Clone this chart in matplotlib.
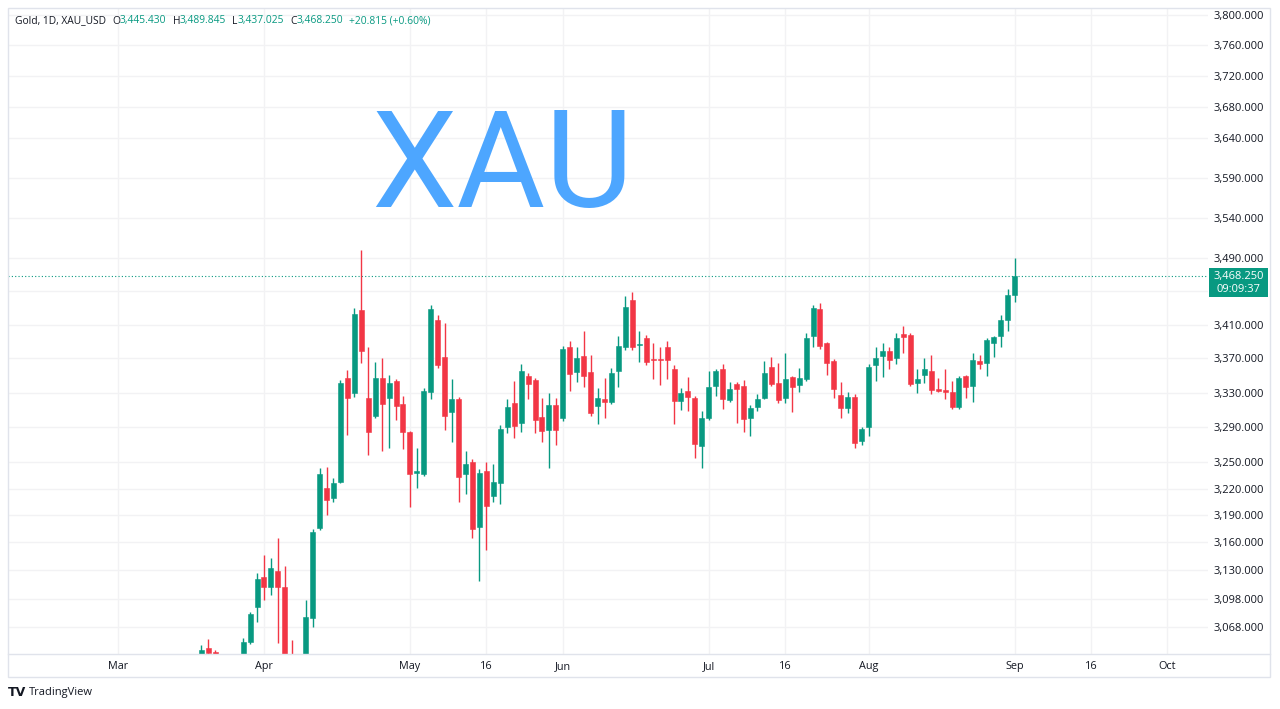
import matplotlib
matplotlib.use("Agg")
import matplotlib.pyplot as plt
import numpy as np
import pandas as pd
from matplotlib.ticker import FixedLocator, FixedFormatter, NullLocator
from matplotlib.patches import Rectangle
from matplotlib.lines import Line2D

plt.rcParams['font.family'] = ['Open Sans', 'DejaVu Sans']

# ---------------- data ----------------
dates = ["2025-03-19", "2025-03-20", "2025-03-21", "2025-03-24", "2025-03-25", "2025-03-26",
         "2025-03-27", "2025-03-28", "2025-03-31", "2025-04-01", "2025-04-02", "2025-04-03",
         "2025-04-04", "2025-04-07", "2025-04-08", "2025-04-09", "2025-04-10", "2025-04-11",
         "2025-04-14", "2025-04-15", "2025-04-16", "2025-04-17", "2025-04-21", "2025-04-22",
         "2025-04-23", "2025-04-24", "2025-04-25", "2025-04-28", "2025-04-29", "2025-04-30",
         "2025-05-01", "2025-05-02", "2025-05-05", "2025-05-06", "2025-05-07", "2025-05-08",
         "2025-05-09", "2025-05-12", "2025-05-13", "2025-05-14", "2025-05-15", "2025-05-16",
         "2025-05-19", "2025-05-20", "2025-05-21", "2025-05-22", "2025-05-23", "2025-05-26",
         "2025-05-27", "2025-05-28", "2025-05-29", "2025-05-30", "2025-06-02", "2025-06-03",
         "2025-06-04", "2025-06-05", "2025-06-06", "2025-06-09", "2025-06-10", "2025-06-11",
         "2025-06-12", "2025-06-13", "2025-06-16", "2025-06-17", "2025-06-18", "2025-06-19",
         "2025-06-20", "2025-06-23", "2025-06-24", "2025-06-25", "2025-06-26", "2025-06-27",
         "2025-06-30", "2025-07-01", "2025-07-02", "2025-07-03", "2025-07-04", "2025-07-07",
         "2025-07-08", "2025-07-09", "2025-07-10", "2025-07-11", "2025-07-14", "2025-07-15",
         "2025-07-16", "2025-07-17", "2025-07-18", "2025-07-21", "2025-07-22", "2025-07-23",
         "2025-07-24", "2025-07-25", "2025-07-28", "2025-07-29", "2025-07-30", "2025-07-31",
         "2025-08-01", "2025-08-04", "2025-08-05", "2025-08-06", "2025-08-07", "2025-08-08",
         "2025-08-11", "2025-08-12", "2025-08-13", "2025-08-14", "2025-08-15", "2025-08-18",
         "2025-08-19", "2025-08-20", "2025-08-21", "2025-08-22", "2025-08-25", "2025-08-26",
         "2025-08-27", "2025-08-28", "2025-08-29", "2025-09-01"]

opens = [3036, 3045, 3041, 3022, 3012, 3020, 3019, 3052, 3089, 3122, 3111, 3129,
         3111, 3035, 2985, 2990, 3078, 3176, 3221, 3209, 3228, 3347, 3330, 3427,
         3324, 3303, 3347, 3324, 3344, 3317, 3284, 3238, 3236, 3331, 3416, 3372,
         3307, 3322, 3236, 3250, 3177, 3240, 3212, 3226, 3290, 3318, 3295, 3349,
         3345, 3302, 3287, 3316, 3300, 3383, 3354, 3373, 3354, 3314, 3322, 3319,
         3355, 3383, 3439, 3386, 3394, 3369, 3369, 3383, 3357, 3320, 3332, 3324,
         3268, 3301, 3338, 3357, 3321, 3340, 3338, 3301, 3313, 3324, 3360, 3341,
         3324, 3348, 3339, 3346, 3397, 3429, 3388, 3367, 3327, 3312, 3325, 3274,
         3290, 3362, 3373, 3379, 3371, 3399, 3398, 3341, 3351, 3355, 3334, 3333,
         3331, 3313, 3349, 3338, 3367, 3365, 3388, 3397, 3415, 3445.430]

highs = [3049, 3055, 3043, 3036, 3030, 3033, 3056, 3084, 3126, 3146, 3143, 3165,
         3134, 3054, 3030, 3097, 3175, 3243, 3245, 3232, 3345, 3356, 3430, 3500,
         3383, 3366, 3370, 3351, 3346, 3326, 3286, 3266, 3335, 3433, 3421, 3412,
         3346, 3325, 3263, 3254, 3242, 3250, 3248, 3293, 3323, 3344, 3363, 3353,
         3347, 3324, 3330, 3324, 3385, 3391, 3383, 3402, 3374, 3335, 3347, 3359,
         3397, 3444, 3449, 3402, 3398, 3388, 3383, 3391, 3362, 3335, 3348, 3326,
         3309, 3355, 3357, 3363, 3342, 3342, 3345, 3316, 3328, 3367, 3372, 3365,
         3376, 3349, 3359, 3400, 3433, 3436, 3390, 3369, 3342, 3331, 3328, 3290,
         3363, 3383, 3388, 3383, 3400, 3408, 3400, 3357, 3370, 3374, 3347, 3357,
         3344, 3349, 3350, 3376, 3374, 3394, 3397, 3422, 3453, 3489.845]

lows = [3030, 3028, 3000, 3002, 3008, 3010, 3015, 3050, 3073, 3097, 3102, 3051,
        3015, 2960, 2975, 2980, 3068, 3174, 3190, 3205, 3226, 3281, 3325, 3365,
        3258, 3300, 3263, 3266, 3298, 3265, 3199, 3221, 3234, 3323, 3359, 3287,
        3273, 3205, 3214, 3165, 3118, 3152, 3205, 3203, 3283, 3278, 3284, 3322,
        3283, 3273, 3243, 3269, 3297, 3332, 3342, 3336, 3303, 3294, 3301, 3317,
        3336, 3380, 3380, 3366, 3362, 3346, 3339, 3346, 3294, 3310, 3309, 3255,
        3243, 3298, 3326, 3311, 3319, 3295, 3284, 3280, 3309, 3322, 3338, 3318,
        3318, 3307, 3331, 3344, 3383, 3381, 3350, 3324, 3301, 3306, 3266, 3269,
        3280, 3344, 3348, 3357, 3363, 3376, 3338, 3330, 3341, 3328, 3331, 3322,
        3311, 3311, 3324, 3319, 3357, 3349, 3372, 3383, 3403, 3437.025]

closes = [3043, 3040, 3022, 3012, 3020, 3019, 3052, 3082, 3120, 3111, 3132, 3111,
          3035, 2985, 2990, 3079, 3172, 3236, 3207, 3226, 3341, 3324, 3423, 3379,
          3284, 3347, 3317, 3341, 3314, 3284, 3236, 3240, 3332, 3429, 3362, 3303,
          3322, 3233, 3248, 3175, 3238, 3200, 3228, 3288, 3313, 3291, 3355, 3340,
          3298, 3285, 3316, 3287, 3381, 3352, 3371, 3349, 3306, 3324, 3319, 3353,
          3385, 3431, 3383, 3387, 3366, 3368, 3368, 3368, 3320, 3330, 3325, 3271,
          3301, 3336, 3355, 3323, 3334, 3334, 3299, 3312, 3322, 3353, 3340, 3321,
          3346, 3336, 3347, 3394, 3430, 3385, 3365, 3334, 3312, 3325, 3272, 3288,
          3360, 3371, 3379, 3368, 3394, 3395, 3340, 3346, 3357, 3333, 3332, 3331,
          3313, 3347, 3336, 3368, 3364, 3392, 3395, 3416, 3446, 3468.250]

holidays = ["2025-04-18"]
price_ticks = [3068, 3098, 3130, 3160, 3190, 3220, 3250, 3290, 3330, 3370, 3410, 3450,
               3490, 3540, 3590, 3640, 3680, 3720, 3760, 3800]
price_tick_labels = ["3,068.000", "3,098.000", "3,130.000", "3,160.000", "3,190.000",
                     "3,220.000", "3,250.000", "3,290.000", "3,330.000", "3,370.000",
                     "3,410.000", "", "3,490.000", "3,540.000", "3,590.000", "3,640.000",
                     "3,680.000", "3,720.000", "3,760.000", "3,800.000"]
date_tick_dates = ["2025-03-03", "2025-04-01", "2025-05-01", "2025-05-16", "2025-06-02",
                   "2025-07-01", "2025-07-16", "2025-08-01", "2025-09-01", "2025-09-16",
                   "2025-10-01"]
date_tick_labels = ["Mar", "Apr", "May", "16", "Jun", "Jul", "16", "Aug", "Sep", "16", "Oct"]

header_title = "Gold, 1D, XAU_USD"
last_price_label = "3,468.250"
countdown_label = "09:09:37"
change_label = "+20.815 (+0.60%)"
watermark = "XAU"

# ---------------- layout ----------------
W, H = 1280, 709
UP, DOWN = "#089981", "#F23645"
GRID = "#f2f2f4"
BORDER = "#e0e3eb"
TXT = "#131722"

cal = pd.bdate_range("2025-03-03", "2025-10-10")
cal = cal[~cal.isin(pd.to_datetime(holidays))]
pos = {d.strftime("%Y-%m-%d"): i for i, d in enumerate(cal)}

x = np.array([pos[d] for d in dates], dtype=float)
o = np.array(opens, float); h = np.array(highs, float)
l = np.array(lows, float); c = np.array(closes, float)
up = c >= o
cols = np.where(up, UP, DOWN)

fig = plt.figure(figsize=(W / 100, H / 100), dpi=100)
fig.patch.set_facecolor("white")

def fx(px): return px / W
def fy(py): return 1 - py / H

ax_l, ax_r, ax_t, ax_b = 8, 1208, 8, 654
ax = fig.add_axes([fx(ax_l), fy(ax_b), (ax_r - ax_l) / W, (ax_b - ax_t) / H])
ax.set_facecolor("white")
ax.set_yscale("log")
ax.set_ylim(3039.1, 3809.3)
ax.set_xlim(-15.83, 156.83)

ax.yaxis.set_major_locator(FixedLocator(price_ticks))
ax.yaxis.set_major_formatter(FixedFormatter(price_tick_labels))
ax.yaxis.set_minor_locator(NullLocator())
ax.yaxis.tick_right()
ax.xaxis.set_major_locator(FixedLocator([pos[d] for d in date_tick_dates]))
ax.xaxis.set_major_formatter(FixedFormatter(date_tick_labels))
ax.xaxis.set_minor_locator(NullLocator())
ax.tick_params(axis="y", length=0, pad=4, labelsize=8, labelcolor=TXT)
ax.tick_params(axis="x", length=0, pad=5, labelsize=7.8, labelcolor=TXT)
for s in ax.spines.values():
    s.set_visible(False)
ax.grid(True, color=GRID, linewidth=1.0, zorder=0)
ax.set_axisbelow(True)

# wicks
ax.vlines(x, l, h, colors=cols, linewidth=1.0, zorder=2)
# bodies
bottoms = np.minimum(o, c)
heights = np.maximum(np.abs(c - o), 0.6)
ax.bar(x, heights, bottom=bottoms, width=0.72, color=cols, edgecolor=cols,
       linewidth=0.4, zorder=3)

# last price dotted line
ax.axhline(c[-1], color=UP, linestyle=(0, (1, 2)), linewidth=0.8, zorder=1)

# watermark
fig.text(fx(502.5), fy(207), watermark, fontsize=98, color="#4DA6FF",
         family=["Roboto", "DejaVu Sans"], ha="center", va="baseline", zorder=1)

# frame and axis separator
fig.add_artist(Rectangle((fx(8), fy(677)), (1270 - 8) / W, (677 - 8) / H,
                         transform=fig.transFigure, fill=False, edgecolor=BORDER,
                         linewidth=1.0, zorder=5))
fig.add_artist(Line2D([fx(8), fx(1270)], [fy(654), fy(654)], transform=fig.transFigure,
                      color=BORDER, linewidth=1.0, zorder=5))

# last price label box
fig.add_artist(Rectangle((fx(1209), fy(297)), 59 / W, 29 / H, transform=fig.transFigure,
                         facecolor=UP, edgecolor="none", zorder=10))
fig.text(fx(1238.5), fy(276), last_price_label, color="white", fontsize=8,
         ha="center", va="center", zorder=11)
fig.text(fx(1238.5), fy(289), countdown_label, color="white", fontsize=8,
         ha="center", va="center", zorder=11)

# header
fig.canvas.draw()
renderer = fig.canvas.get_renderer()
parts = [(header_title, TXT, 6), ("O", TXT, 0), ("3,445.430", UP, 6), ("H", TXT, 0),
         ("3,489.845", UP, 6), ("L", TXT, 0), ("3,437.025", UP, 6), ("C", TXT, 0),
         ("3,468.250", UP, 6), (change_label, UP, 0)]
cx = 15
for s, col, gap in parts:
    t = fig.text(fx(cx), fy(21), s, color=col, fontsize=7.4, ha="left", va="center")
    bb = t.get_window_extent(renderer)
    cx += bb.width + gap

# TradingView logo
fig.text(fx(8), fy(692), "TV", fontsize=9, fontweight="heavy", color=TXT,
         ha="left", va="center", family=["DejaVu Sans"])
fig.text(fx(29), fy(692), "TradingView", fontsize=8, color=TXT, ha="left", va="center")

fig.savefig("out.png", dpi=100, facecolor="white")
